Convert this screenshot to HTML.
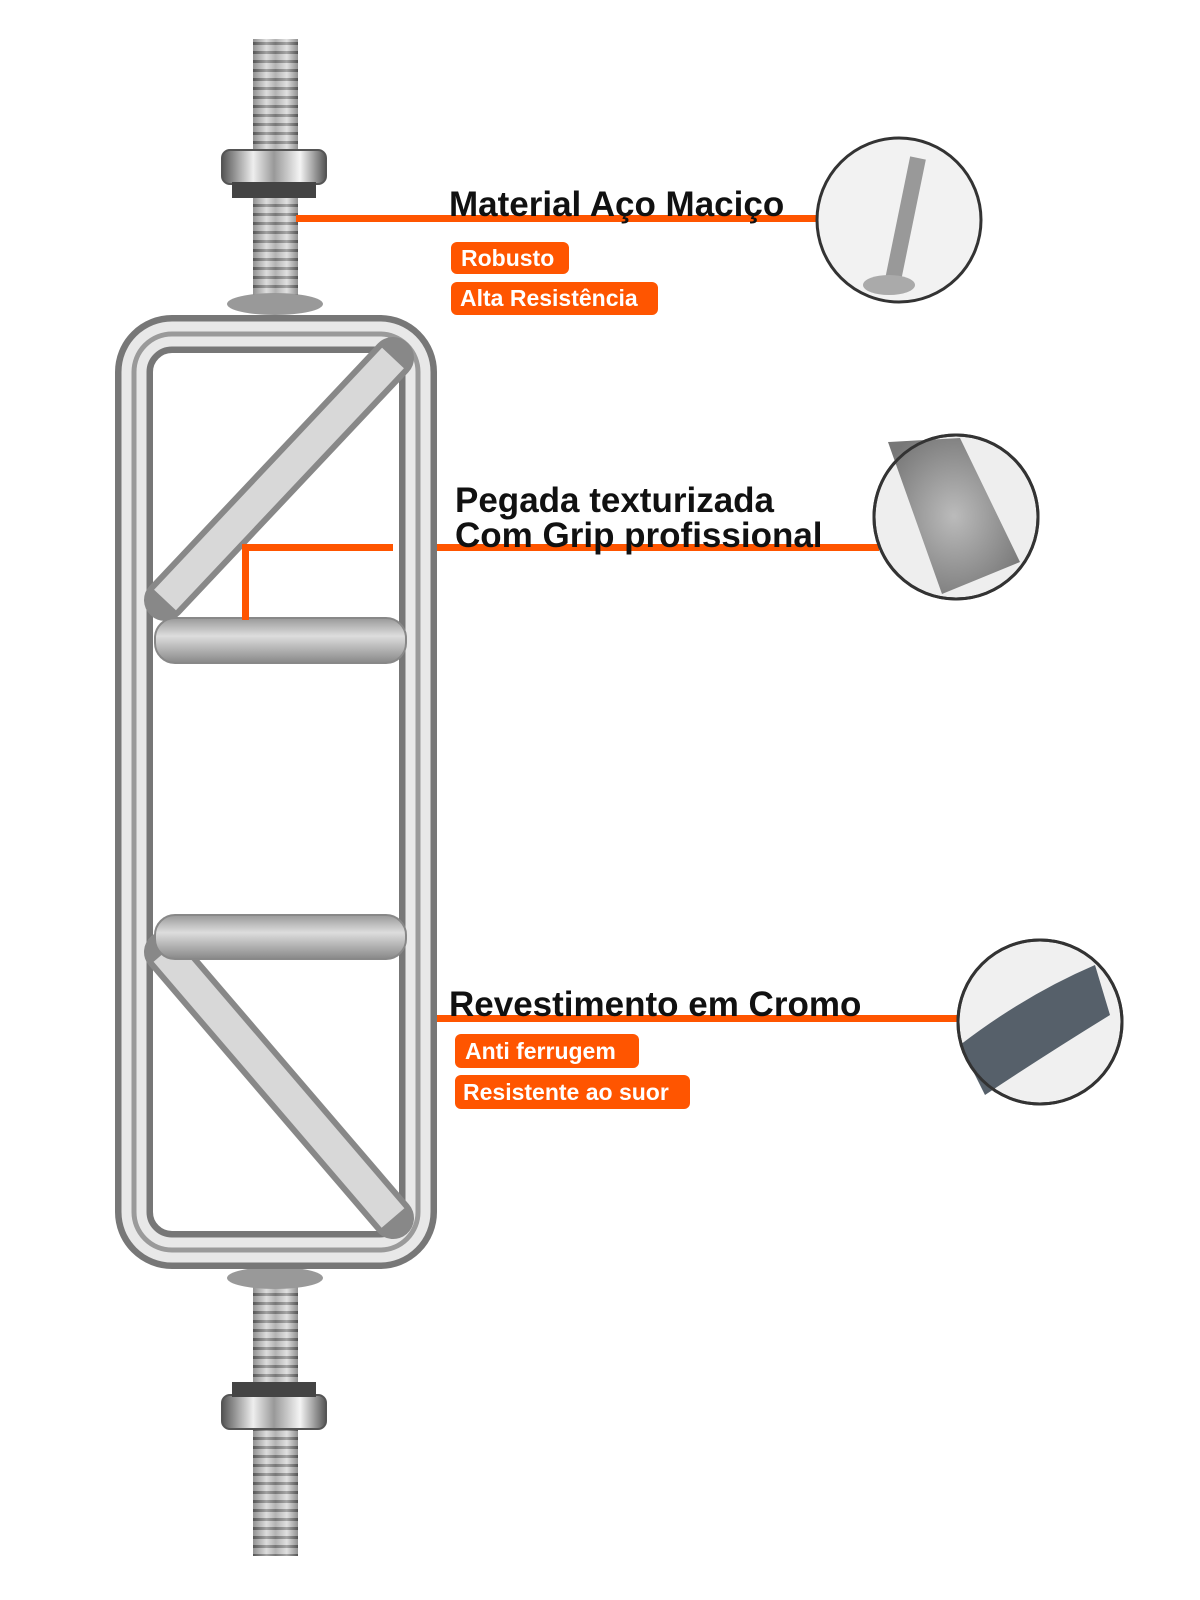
<!DOCTYPE html>
<html><head><meta charset="utf-8"><style>
html,body{margin:0;padding:0;background:#fff;}
svg{display:block}
text{font-family:"Liberation Sans",sans-serif;font-weight:bold}
</style></head><body>
<svg width="1200" height="1600" viewBox="0 0 1200 1600" xmlns="http://www.w3.org/2000/svg">
<defs>
<linearGradient id="tv" x1="0" y1="0" x2="1" y2="0">
<stop offset="0" stop-color="#555"/><stop offset=".3" stop-color="#eee"/><stop offset=".5" stop-color="#999"/><stop offset=".75" stop-color="#f4f4f4"/><stop offset="1" stop-color="#555"/></linearGradient>
<linearGradient id="knurl" x1="0" y1="0" x2="0" y2="1">
<stop offset="0" stop-color="#999"/><stop offset=".4" stop-color="#ddd"/><stop offset="1" stop-color="#888"/></linearGradient>
<pattern id="thread" width="10" height="9" patternUnits="userSpaceOnUse">
<rect width="10" height="9" fill="#ccc"/><rect y="6" width="10" height="3" fill="#555"/></pattern>
<radialGradient id="c2" cx=".5" cy=".5" r=".6"><stop offset="0" stop-color="#bbb"/><stop offset="1" stop-color="#777"/></radialGradient>
</defs>
<rect x="253" y="39" width="45" height="268" fill="url(#thread)"/>
<rect x="253" y="39" width="45" height="268" fill="url(#tv)" opacity=".5"/>
<rect x="253" y="1285" width="45" height="271" fill="url(#thread)"/>
<rect x="253" y="1285" width="45" height="271" fill="url(#tv)" opacity=".5"/>
<rect x="222" y="150" width="104" height="34" rx="8" fill="url(#tv)" stroke="#555" stroke-width="2"/>
<rect x="232" y="182" width="84" height="16" fill="#444"/>
<rect x="222" y="1395" width="104" height="34" rx="8" fill="url(#tv)" stroke="#555" stroke-width="2"/>
<rect x="232" y="1382" width="84" height="15" fill="#444"/>
<ellipse cx="275" cy="304" rx="48" ry="11" fill="#999"/>
<ellipse cx="275" cy="1278" rx="48" ry="11" fill="#999"/>
<rect x="134" y="334" width="284" height="916" rx="38" fill="none" stroke="#777" stroke-width="38"/>
<rect x="134" y="334" width="284" height="916" rx="38" fill="none" stroke="#e8e8e8" stroke-width="25"/>
<rect x="134" y="334" width="284" height="916" rx="38" fill="none" stroke="#9a9a9a" stroke-width="5"/>
<line x1="165" y1="600" x2="393" y2="358" stroke="#888" stroke-width="42" stroke-linecap="round"/>
<line x1="165" y1="600" x2="393" y2="358" stroke="#d8d8d8" stroke-width="30"/>
<line x1="165" y1="952" x2="393" y2="1218" stroke="#888" stroke-width="42" stroke-linecap="round"/>
<line x1="165" y1="952" x2="393" y2="1218" stroke="#d8d8d8" stroke-width="30"/>
<rect x="155" y="618" width="251" height="45" rx="20" fill="url(#knurl)" stroke="#888" stroke-width="2"/>
<rect x="155" y="915" width="251" height="44" rx="20" fill="url(#knurl)" stroke="#888" stroke-width="2"/>
<g fill="#ff5500">
<rect x="296" y="215" width="522" height="7"/>
<rect x="245" y="544" width="148" height="7"/>
<rect x="437" y="544" width="442" height="7"/>
<rect x="242" y="544" width="7" height="76"/>
<rect x="437" y="1015" width="524" height="7"/>
</g>
<text x="449" y="216" font-size="35" fill="#111">Material Aço Maciço</text>
<text x="455" y="512" font-size="35" fill="#111">Pegada texturizada</text>
<text x="455" y="547" font-size="35" fill="#111">Com Grip profissional</text>
<text x="449" y="1016" font-size="35" fill="#111">Revestimento em Cromo</text>
<g fill="#ff5500">
<rect x="451" y="242" width="118" height="32" rx="6"/>
<rect x="451" y="282" width="207" height="33" rx="6"/>
<rect x="455" y="1034" width="184" height="34" rx="6"/>
<rect x="455" y="1075" width="235" height="34" rx="6"/>
</g>
<g fill="#fff" font-size="23">
<text x="461" y="266">Robusto</text>
<text x="460" y="306">Alta Resistência</text>
<text x="465" y="1059">Anti ferrugem</text>
<text x="463" y="1100">Resistente ao suor</text>
</g>
<circle cx="899" cy="220" r="82" fill="#f2f2f2" stroke="#333" stroke-width="3"/>
<line x1="892" y1="285" x2="918" y2="158" stroke="#999" stroke-width="16"/>
<ellipse cx="889" cy="285" rx="26" ry="10" fill="#aaa"/>
<circle cx="956" cy="517" r="82" fill="#eee" stroke="#333" stroke-width="3"/>
<path d="M888 442 L960 438 L1020 562 L942 594 Z" fill="url(#c2)"/>
<circle cx="956" cy="517" r="82" fill="none" stroke="#333" stroke-width="3"/>
<circle cx="1040" cy="1022" r="82" fill="#f0f0f0" stroke="#333" stroke-width="3"/>
<path d="M960 1045 Q1025 995 1095 965 L1110 1015 Q1045 1055 985 1095 Z" fill="#56606a"/>
<circle cx="1040" cy="1022" r="82" fill="none" stroke="#333" stroke-width="3"/>
</svg>
</body></html>
